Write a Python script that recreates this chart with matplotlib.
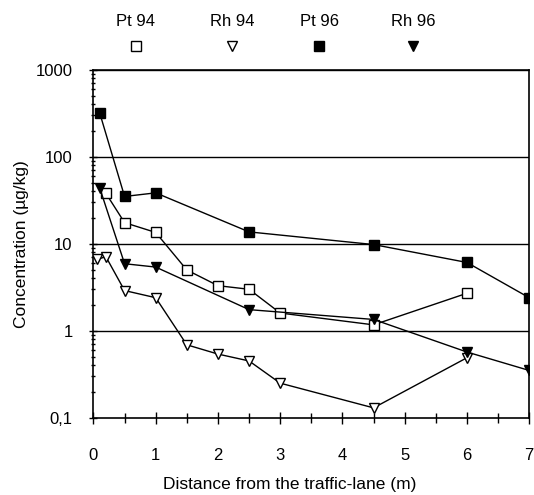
import matplotlib
matplotlib.use("Agg")
import matplotlib.pyplot as plt
from matplotlib.ticker import FixedLocator, LogLocator, NullFormatter, FuncFormatter
from matplotlib.lines import Line2D

plt.rcParams["font.family"] = ["Liberation Sans", "DejaVu Sans"]
plt.rcParams["font.size"] = 12

# distances (m) and concentrations (µg/kg)
pt94_x = [0.2, 0.5, 1.0, 1.5, 2.0, 2.5, 3.0, 4.5, 6.0]
pt94_y = [38, 17.5, 13.5, 5.0, 3.3, 3.0, 1.6, 1.17, 2.7]

rh94_x = [0.05, 0.2, 0.5, 1.0, 1.5, 2.0, 2.5, 3.0, 4.5, 6.0]
rh94_y = [6.6, 7.1, 2.9, 2.4, 0.69, 0.54, 0.45, 0.25, 0.13, 0.49]

pt96_x = [0.1, 0.5, 1.0, 2.5, 4.5, 6.0, 7.0]
pt96_y = [320, 35, 38.5, 13.7, 9.8, 6.1, 2.4]

rh96_x = [0.1, 0.5, 1.0, 2.5, 4.5, 6.0, 7.0]
rh96_y = [44, 5.9, 5.4, 1.75, 1.35, 0.57, 0.35]

series = [
    ("Pt 94", pt94_x, pt94_y, "s", "white"),
    ("Rh 94", rh94_x, rh94_y, "v", "white"),
    ("Pt 96", pt96_x, pt96_y, "s", "black"),
    ("Rh 96", rh96_x, rh96_y, "v", "black"),
]

fig = plt.figure(figsize=(5.34, 4.95), dpi=100)
ax = fig.add_axes([0.175, 0.156, 0.816, 0.703])

for label, xs, ys, marker, face in series:
    ax.plot(xs, ys, color="black", lw=1.0, marker=marker, ms=7.5,
            mfc=face, mec="black", mew=1.0, zorder=3)

ax.set_yscale("log")
ax.set_ylim(0.1, 1000)
ax.set_xlim(0, 7)
for v in [1, 10, 100, 1000]:
    ax.axhline(v, color="black", lw=1.0, zorder=1)

ax.yaxis.set_major_locator(FixedLocator([0.1, 1, 10, 100, 1000]))
ax.yaxis.set_minor_locator(LogLocator(base=10, subs=range(2, 10)))
ax.yaxis.set_minor_formatter(NullFormatter())
ax.yaxis.set_major_formatter(FuncFormatter(lambda v, p: "0,1" if v < 1 else f"{v:g}"))
ax.set_xticks(range(8))
ax.set_xticks([i + 0.5 for i in range(7)], minor=True)
ax.tick_params(axis="both", which="both", direction="inout", width=1.0)
ax.tick_params(axis="x", which="major", length=9, pad=17)
ax.tick_params(axis="x", which="minor", length=7)
ax.tick_params(axis="y", which="major", length=6, pad=12)
ax.tick_params(axis="y", which="minor", length=3)
ax.tick_params(labelsize=12)

for s in ax.spines.values():
    s.set_linewidth(1.2)

ax.set_xlabel("Distance from the traffic-lane (m)", fontsize=12.5)
ax.xaxis.set_label_coords(0.45, -0.17)
ax.set_ylabel("Concentration (µg/kg)", fontsize=12.5, labelpad=5)

# legend across the top: label above marker
legend_x = [136, 232, 319, 413]
for (label, xs, ys, marker, face), px in zip(series, legend_x):
    fx = px / 534
    fig.text(fx, 1 - 22 / 495, label, ha="center", va="center", fontsize=12)
    fig.add_artist(Line2D([fx], [1 - 46 / 495], marker=marker, ms=7.5, mfc=face,
                          mec="black", mew=1.0, ls="none",
                          transform=fig.transFigure))

fig.savefig("out.png", dpi=100)
